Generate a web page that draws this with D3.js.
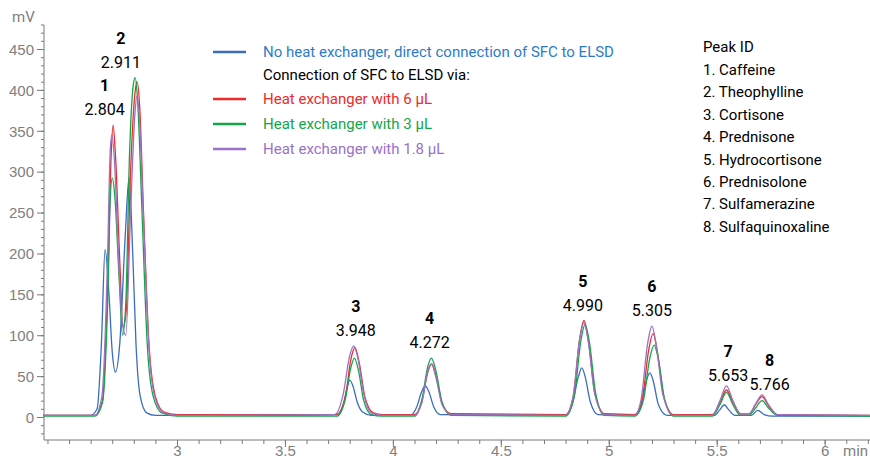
<!DOCTYPE html>
<html><head><meta charset="utf-8">
<script src="https://cdn.jsdelivr.net/npm/d3@7"></script>
<style>
body{margin:0;background:#fff;}
text{font-family:"Liberation Sans Narrow","Roboto",sans-serif;}
</style></head>
<body><svg id="chart" width="870" height="460"></svg>
<script>
// traces: [minutes, mV]
const blueTrace = [[2.38,2],[2.6,2],[2.63,10],[2.65,90],[2.667,205],[2.685,150],[2.70,80],[2.715,55],[2.735,90],[2.76,220],[2.778,293],[2.795,200],[2.81,90],[2.83,25],[2.86,5],[2.9,2],[3.5,2],[3.74,3],[3.77,15],[3.79,38],[3.80,45],[3.815,38],[3.835,18],[3.86,6],[3.9,2],[4.08,2],[4.11,12],[4.135,32],[4.15,38],[4.165,32],[4.19,12],[4.22,3],[4.8,2],[4.83,15],[4.86,50],[4.875,60],[4.89,50],[4.915,18],[4.95,3],[5.12,2],[5.15,15],[5.175,45],[5.19,54],[5.205,45],[5.23,15],[5.27,2],[5.49,2],[5.515,9],[5.535,15],[5.555,9],[5.585,2],[5.66,2],[5.69,8],[5.72,3],[5.76,1],[6.21,1]];
const redTrace = [[2.38,2],[2.62,2],[2.655,20],[2.68,170],[2.695,320],[2.704,357],[2.715,320],[2.735,190],[2.75,110],[2.765,130],[2.785,300],[2.805,395],[2.815,410],[2.827,380],[2.845,250],[2.87,90],[2.9,25],[2.94,6],[3.0,3],[3.74,3],[3.78,25],[3.805,70],[3.824,85],[3.845,65],[3.87,25],[3.91,5],[3.95,3],[4.1,3],[4.135,20],[4.162,55],[4.18,65],[4.2,50],[4.23,15],[4.27,4],[4.8,3],[4.835,25],[4.865,95],[4.885,118],[4.905,95],[4.935,30],[4.98,4],[5.12,3],[5.155,22],[5.185,82],[5.205,102],[5.225,80],[5.255,25],[5.3,3],[5.48,3],[5.515,18],[5.545,33],[5.575,18],[5.61,4],[5.65,4],[5.68,15],[5.71,25],[5.74,14],[5.78,3],[6.21,2]];
const greenTrace = [[2.38,1],[2.62,1],[2.655,18],[2.68,150],[2.692,275],[2.700,292],[2.712,270],[2.732,170],[2.748,100],[2.763,140],[2.78,320],[2.797,405],[2.806,415],[2.818,385],[2.838,250],[2.862,90],[2.89,25],[2.93,5],[3.0,1],[3.74,1],[3.78,22],[3.805,60],[3.822,72],[3.842,55],[3.865,20],[3.9,3],[3.95,1],[4.1,1],[4.135,22],[4.162,62],[4.178,72],[4.198,58],[4.228,18],[4.27,2],[4.8,1],[4.84,25],[4.87,92],[4.89,113],[4.91,92],[4.94,28],[4.98,2],[5.12,1],[5.16,20],[5.19,72],[5.21,88],[5.23,70],[5.26,20],[5.3,1],[5.48,1],[5.515,15],[5.545,30],[5.575,15],[5.61,2],[5.65,2],[5.68,11],[5.71,20],[5.74,11],[5.78,2],[6.21,1]];
const purpleTrace = [[2.38,2],[2.62,2],[2.652,25],[2.677,180],[2.69,320],[2.698,345],[2.71,315],[2.73,190],[2.745,120],[2.763,100],[2.785,250],[2.805,370],[2.814,392],[2.826,365],[2.845,240],[2.87,85],[2.9,22],[2.94,5],[3.0,2],[3.73,3],[3.77,28],[3.8,75],[3.818,87],[3.838,72],[3.865,28],[3.9,5],[3.95,2],[4.1,2],[4.135,18],[4.16,55],[4.178,65],[4.198,50],[4.228,15],[4.27,3],[4.8,2],[4.835,25],[4.865,95],[4.885,115],[4.905,92],[4.935,28],[4.98,3],[5.12,2],[5.15,22],[5.18,90],[5.2,111],[5.22,88],[5.25,28],[5.3,2],[5.48,2],[5.515,20],[5.545,38],[5.575,20],[5.61,4],[5.65,4],[5.68,16],[5.71,27],[5.74,15],[5.78,3],[6.21,2]];

const seriesNames = ["No heat exchanger, direct connection of SFC to ELSD","Heat exchanger with 6 µL","Heat exchanger with 3 µL","Heat exchanger with 1.8 µL"];
const seriesColors = ["#3a6cc0","#ee2a2a","#12a64a","#9a72c6"];
const seriesTraces = [blueTrace, redTrace, greenTrace, purpleTrace];

// peak labels: number, retention label, label position (min, mV)
const peakNums = ["1","2","3","4","5","6","7","8"];
const peakTimes = ["2.804","2.911","3.948","4.272","4.990","5.305","5.653","5.766"];
const peakLabelX = [2.665,2.74,3.828,4.17,4.88,5.2,5.553,5.745];
const peakLabelY = [357,415,87,72,118,111,32,21];

const peakIds = ["1. Caffeine","2. Theophylline","3. Cortisone","4. Prednisone","5. Hydrocortisone","6. Prednisolone","7. Sulfamerazine","8. Sulfaquinoxaline"];
const yTicks = [0,50,100,150,200,250,300,350,400,450];
const xTicks = [3,3.5,4,4.5,5,5.5,6];

const svg = d3.select('#chart');
const x = d3.scaleLinear().domain([2.384, 6.21]).range([44, 870]);
const y = d3.scaleLinear().domain([0, 450]).range([417, 49]);
const axisCol = '#7a7a7a';

// axes
const xAxis = svg.append('g').attr('transform', 'translate(0,440)')
  .call(d3.axisBottom(x).tickValues(xTicks).tickFormat(d3.format('~g')).tickSize(7).tickSizeOuter(0));
svg.append('g').attr('transform', 'translate(0,440)')
  .call(d3.axisBottom(x).tickValues(d3.range(2.4, 6.21, 0.1)).tickFormat('').tickSize(4).tickSizeOuter(0));
const yAxis = svg.append('g').attr('transform', 'translate(44,0)')
  .call(d3.axisLeft(y).tickValues(yTicks).tickSize(7).tickSizeOuter(0));
svg.append('g').attr('transform', 'translate(44,0)')
  .call(d3.axisLeft(y).tickValues(d3.range(-20, 481, 10)).tickFormat('').tickSize(3).tickSizeOuter(0));
svg.selectAll('.domain').remove();
svg.append('line').attr('x1', 44).attr('x2', 44).attr('y1', 25).attr('y2', 440).attr('stroke', axisCol);
svg.append('line').attr('x1', 44).attr('x2', 870).attr('y1', 440).attr('y2', 440).attr('stroke', axisCol);
svg.selectAll('.tick line').attr('stroke', axisCol);
svg.selectAll('.tick text').attr('fill', '#808080').style('font-size', '15px')
  .style('font-family', '"Liberation Sans Narrow",sans-serif');
xAxis.selectAll('.tick text').attr('dy', '0.4em');
yAxis.selectAll('.tick text').attr('dy', '0.35em');
svg.append('text').attr('x', 12).attr('y', 22).text('mV').attr('fill', '#808080').style('font-size', '15px');
svg.append('text').attr('x', 843).attr('y', 456).text('min').attr('fill', '#808080').style('font-size', '15px');

// traces
const line = d3.line().x(d => x(d[0])).y(d => y(d[1])).curve(d3.curveMonotoneX);
seriesTraces.forEach((t, i) => {
  svg.append('path').datum(t).attr('d', line).attr('fill', 'none')
    .attr('stroke', seriesColors[i]).attr('stroke-width', 1.3);
});

// peak labels
peakNums.forEach((n, i) => {
  const px = x(peakLabelX[i]), py = y(peakLabelY[i]);
  svg.append('text').attr('x', px).attr('y', py - 34).attr('text-anchor', 'middle')
    .style('font-size', '16px').style('font-weight', 'bold').text(n);
  svg.append('text').attr('x', px).attr('y', py - 10).attr('text-anchor', 'middle')
    .style('font-size', '16px').text(peakTimes[i]);
});

// legend
const legRows = [52, 99, 124, 149];
seriesNames.forEach((n, i) => {
  svg.append('line').attr('x1', 213).attr('x2', 246).attr('y1', legRows[i]).attr('y2', legRows[i])
    .attr('stroke', seriesColors[i]).attr('stroke-width', 2.5);
  svg.append('text').attr('x', 263).attr('y', legRows[i] + 5).attr('fill', i === 0 ? '#2d7cc6' : seriesColors[i])
    .style('font-size', '15px').text(n);
});
svg.append('text').attr('x', 263).attr('y', 80).style('font-size', '15px').text('Connection of SFC to ELSD via:');

// peak ID list
svg.append('text').attr('x', 703).attr('y', 52).style('font-size', '15px').text('Peak ID');
peakIds.forEach((p, i) => {
  svg.append('text').attr('x', 703).attr('y', 75 + i * 22.4).style('font-size', '15px').text(p);
});
</script>
</body></html>
